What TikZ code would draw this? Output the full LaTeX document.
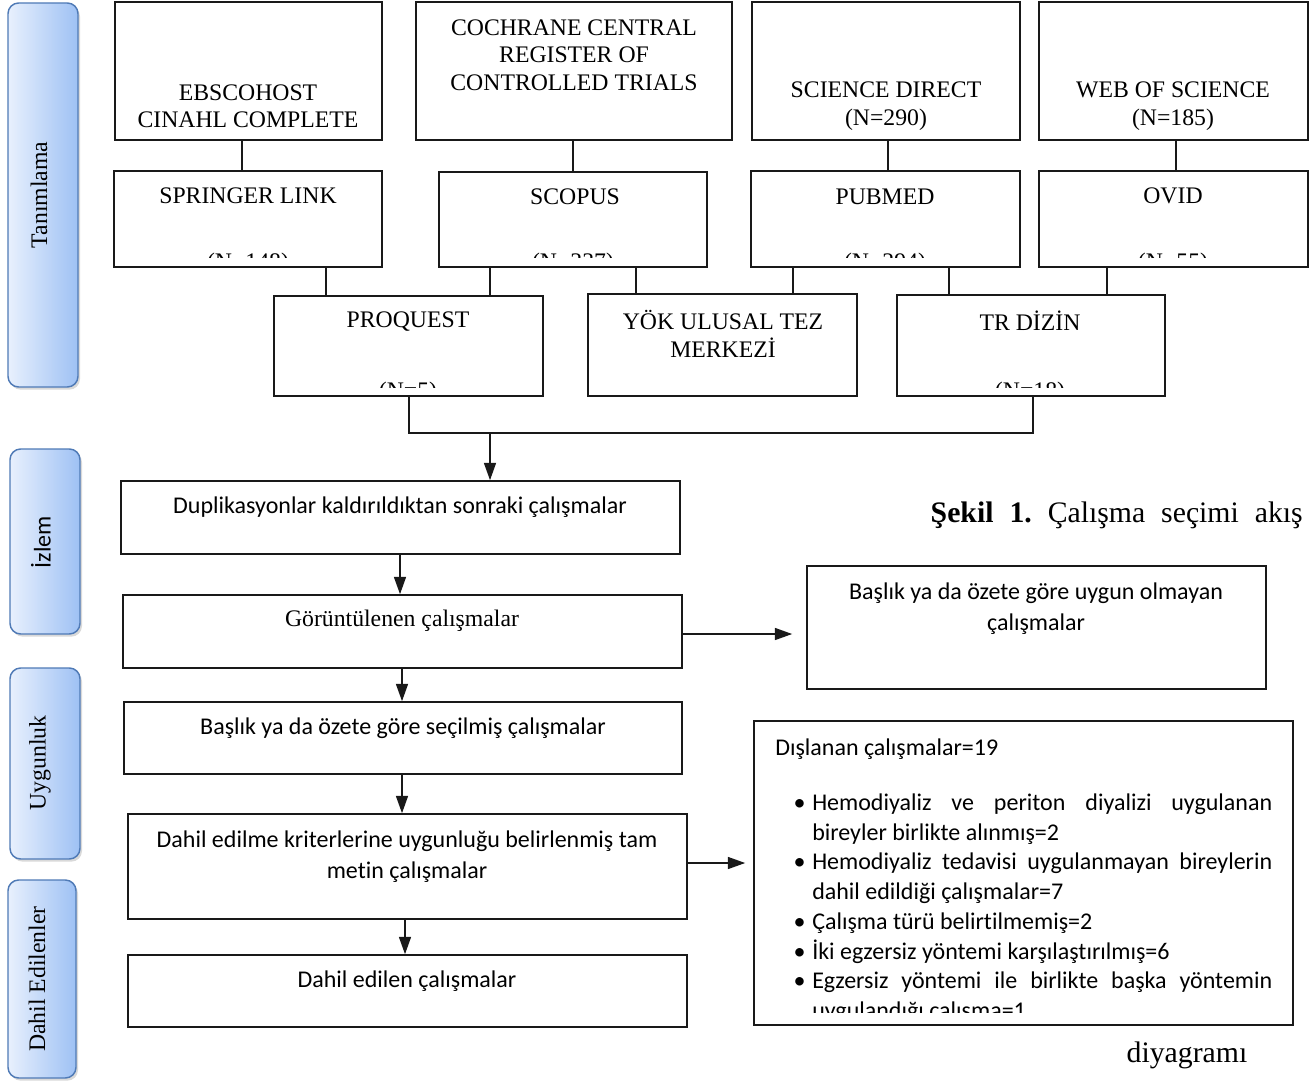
\documentclass[tikz,border=0pt]{standalone}
\usepackage{fontspec}
\setmainfont{Liberation Serif}
\newfontfamily\calibri[Ligatures=NoCommon]{Carlito}
\usetikzlibrary{arrows.meta,positioning,calc,fit,shadows}
\definecolor{bandleft}{RGB}{232,240,253}
\definecolor{bandright}{RGB}{158,193,244}
\definecolor{bandedge}{RGB}{79,122,182}
\definecolor{boxedge}{RGB}{25,25,25}
\newcommand\blt{\par\noindent\llap{\textbullet\hspace{5pt}}}
\tikzset{
  band/.style={rectangle,draw=bandedge,line width=1.1pt,rounded corners=8pt,
    left color=bandleft,right color=bandright,inner sep=0pt,
    drop shadow={shadow xshift=1.5pt,shadow yshift=-2pt,opacity=.3}},
  bandlab/.style={rotate=90,font=\fontsize{17.8}{20.6}\selectfont,inner sep=0pt},
  dbbox/.style={rectangle,draw=boxedge,line width=1.2pt,inner sep=0pt},
  dbtext/.style={align=center,font=\fontsize{17.8}{20.6}\selectfont,inner sep=0pt},
  stepbox/.style={rectangle,draw=boxedge,line width=1.2pt,inner sep=0pt},
  steptext/.style={align=center,font=\calibri\fontsize{18}{23.2}\selectfont,inner sep=0pt},
  listtext/.style={align=justify,text width=372.75pt,inner sep=0pt,
    font=\calibri\fontsize{18}{22.3}\selectfont},
  captext/.style={font=\fontsize{22.3}{26}\selectfont,inner sep=0pt},
  link/.style={line width=1.1pt,draw=boxedge},
  flow/.style={-{Triangle[length=13pt,width=9pt]},line width=1.1pt,draw=boxedge},
}

\begin{document}
\begin{tikzpicture}[x=0.75pt,y=-0.75pt]
  \useasboundingbox (0,0) rectangle (1316,1081);

  % phase bands on the left
  \node[band,fit={(8,3) (78,387)}] (tanim) {};
  \node[bandlab] (tanim-t) at (39,195) {Tanımlama};
  \node[band,fit={(10,449) (80,634)}] (izlem) {};
  \node[bandlab,font=\calibri\fontsize{18}{20}\selectfont] (izlem-t) at (41,542) {İzlem};
  \node[band,fit={(10,668) (80,859)}] (uygun) {};
  \node[bandlab] (uygun-t) at (40,763) {Uygunluk};
  \node[band,fit={(8,880) (76,1078)}] (dahil) {};
  \node[bandlab] (dahil-t) at (37,979) {Dahil Edilenler};

  % databases, first row
  \node[dbbox,fit={(115,2) (382,140)}] (ebsco) {};
  \node[dbtext] (ebsco-t) at (248,106) {EBSCOHOST\\CINAHL COMPLETE};
  \node[dbbox,fit={(416,2) (732,140)}] (cochrane) {};
  \node[dbtext] (cochrane-t) at (574,55) {COCHRANE CENTRAL\\REGISTER OF\\CONTROLLED TRIALS};
  \node[dbbox,fit={(752,2) (1020,140)}] (scidir) {};
  \node[dbtext] (scidir-t) at (886,106) {SCIENCE DIRECT\\(N=290)};
  \node[dbbox,fit={(1039,2) (1308,140)}] (wos) {};
  \node[dbtext] (wos-t) at (1173,106) {WEB OF SCIENCE\\(N=185)};

  % second row
  \node[dbbox,fit={(114,171) (382,267)}] (springer) {};
  \node[dbtext] (springer-t) at (248,196) {SPRINGER LINK};
  \node[dbbox,fit={(439,172) (707,267)}] (scopus) {};
  \node[dbtext] (scopus-t) at (575,197) {SCOPUS};
  \node[dbbox,fit={(751,171) (1020,267)}] (pubmed) {};
  \node[dbtext] (pubmed-t) at (885,197) {PUBMED};
  \node[dbbox,fit={(1039,171) (1308,267)}] (ovid) {};
  \node[dbtext] (ovid-t) at (1173,196) {OVID};

  % third row
  \node[dbbox,fit={(274,296) (543,396)}] (proquest) {};
  \node[dbtext] (proquest-t) at (408,322) {PROQUEST};
  \node[dbbox,fit={(588,294) (857,396)}] (yok) {};
  \node[dbtext] (yok-t) at (723,334) {YÖK ULUSAL TEZ\\MERKEZİ};
  \node[dbbox,fit={(897,295) (1165,396)}] (trdizin) {};
  \node[dbtext] (trdizin-t) at (1030,321) {TR DİZİN};

  % counts cut off at the bottom of their boxes
  \begin{scope}
    \clip (114,171) rectangle (1308,257) (274,294) rectangle (1165,387);
    \node[dbtext] (springer-n) at (248,264) {(N=148)};
    \node[dbtext] (scopus-n) at (573,264) {(N=337)};
    \node[dbtext] (pubmed-n) at (885,264) {(N=294)};
    \node[dbtext] (ovid-n) at (1173,264) {(N=55)};
    \node[dbtext] (proquest-n) at (408,393) {(N=5)};
    \node[dbtext] (trdizin-n) at (1030,393) {(N=18)};
  \end{scope}

  \draw[link] (ebsco.south -| 242,0) -- (springer.north -| 242,0);
  \draw[link] (cochrane.south -| 573,0) -- (scopus.north -| 573,0);
  \draw[link] (scidir.south -| 888,0) -- (pubmed.north -| 888,0);
  \draw[link] (wos.south -| 1176,0) -- (ovid.north -| 1176,0);
  \draw[link] (springer.south -| 326,0) -- (proquest.north -| 326,0);
  \draw[link] (scopus.south -| 490,0) -- (proquest.north -| 490,0);
  \draw[link] (scopus.south -| 636,0) -- (yok.north -| 636,0);
  \draw[link] (pubmed.south -| 793,0) -- (yok.north -| 793,0);
  \draw[link] (pubmed.south -| 949,0) -- (trdizin.north -| 949,0);
  \draw[link] (ovid.south -| 1107,0) -- (trdizin.north -| 1107,0);

  % screening steps
  \node[stepbox,fit={(121,481) (680,554)}] (dup) {};
  \node[steptext] (dup-t) at (400,507) {Duplikasyonlar kaldırıldıktan sonraki çalışmalar};
  \node[stepbox,fit={(123,595) (682,668)}] (gorun) {};
  \node[dbtext] (gorun-t) at (402,621) {Görüntülenen çalışmalar};
  \node[stepbox,fit={(124,702) (682,774)}] (secil) {};
  \node[steptext] (secil-t) at (403,728) {Başlık ya da özete göre seçilmiş çalışmalar};
  \node[stepbox,fit={(128,814) (687,919)}] (tam) {};
  \node[steptext] (tam-t) at (407,857) {Dahil edilme kriterlerine uygunluğu belirlenmiş tam\\metin çalışmalar};
  \node[stepbox,fit={(128,955) (687,1027)}] (dahilen) {};
  \node[steptext] (dahilen-t) at (407,981) {Dahil edilen çalışmalar};

  \node[stepbox,fit={(807,566) (1266,689)}] (excl1) {};
  \node[steptext] (excl1-t) at (1036,609) {Başlık ya da özete göre uygun olmayan\\çalışmalar};
  \node[stepbox,fit={(754,721) (1293,1025)}] (excl2) {};
  \begin{scope}
    \clip (754,721) rectangle (1293,1012);
    \node[listtext,anchor=north west] (excl2-t) at (775,739) {%
      \hyphenpenalty=10000
      Dışlanan çalışmalar=19\par\vspace{18.5pt}
      \leftskip=27.75pt
      \blt Hemodiyaliz ve periton diyalizi uygulanan\linebreak bireyler birlikte alınmış=2
      \blt Hemodiyaliz tedavisi uygulanmayan bireylerin\linebreak dahil edildiği çalışmalar=7
      \blt Çalışma türü belirtilmemiş=2
      \blt İki egzersiz yöntemi karşılaştırılmış=6
      \blt Egzersiz yöntemi ile birlikte başka yöntemin\linebreak uygulandığı çalışma=1\par};
  \end{scope}

  % merging the searches
  \coordinate (merge) at (490,433);
  \draw[link] (proquest.south -| 409,0) |- (merge) -| (trdizin.south -| 1033,0);
  \draw[link] (yok.south -| 725,0) -- (yok.south -| 725,0 |- merge);
  \draw[flow] (merge) -- (dup.north -| merge);

  \draw[flow] (dup.south -| 400,0) -- (gorun.north -| 400,0);
  \draw[flow] (gorun.south -| 402,0) -- (secil.north -| 402,0);
  \draw[flow] (secil.south -| 402,0) -- (tam.north -| 402,0);
  \draw[flow] (tam.south -| 405,0) -- (dahilen.north -| 405,0);
  \draw[flow] (gorun.east |- 0,634) -- ($(excl1.west |- 0,634)+(-14,0)$);
  \draw[flow] (tam.east |- 0,863) -- ($(excl2.west |- 0,863)+(-8,0)$);

  % caption pieces
  \node[captext,anchor=east] (caption) at (1303,515)
    {\hbox to 279pt{\textbf{Şekil}\hfill\textbf{1.}\hfill Çalışma\hfill seçimi\hfill akış}};
  \node[captext] (caption2) at (1187,1055) {diyagramı};
\end{tikzpicture}
\end{document}
